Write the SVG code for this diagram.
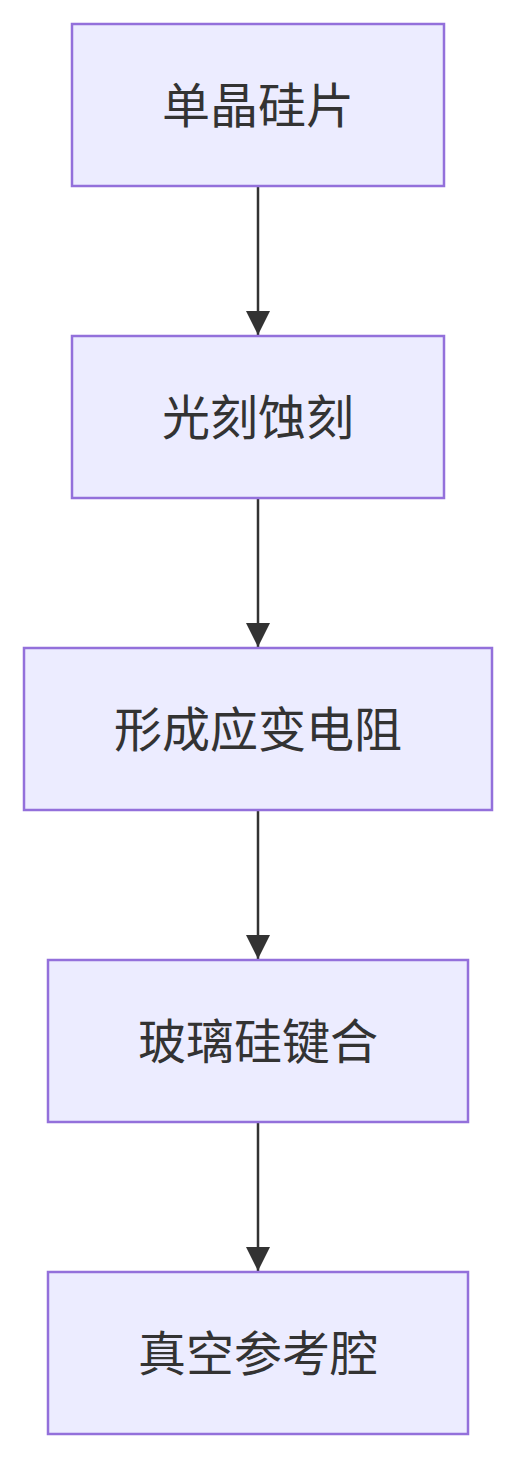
<svg xmlns="http://www.w3.org/2000/svg" width="516" height="1458" viewBox="0 0 516 1458">
<style>
.node rect{fill:#ECECFF;stroke:#9370DB;stroke-width:2.5px}
.node text{font-family:"Noto Sans CJK SC","Noto Sans",sans-serif;font-size:48px;fill:#333333;text-anchor:middle;dominant-baseline:central}
.edge{stroke:#333333;stroke-width:2.5px;fill:none}
</style>
<defs>
<marker id="arrow" markerUnits="userSpaceOnUse" viewBox="0 0 24 24" refX="24" refY="12" markerWidth="24" markerHeight="24" orient="auto">
<path d="M0,0 L24,12 L0,24 z" fill="#333333"/>
</marker>
</defs>
<rect width="516" height="1458" fill="#ffffff"/>
<g id="connectors">
<line class="edge" x1="258" y1="186" x2="258" y2="335" marker-end="url(#arrow)"/>
<line class="edge" x1="258" y1="498" x2="258" y2="647" marker-end="url(#arrow)"/>
<line class="edge" x1="258" y1="810" x2="258" y2="959" marker-end="url(#arrow)"/>
<line class="edge" x1="258" y1="1122" x2="258" y2="1271" marker-end="url(#arrow)"/>
</g>
<g id="n1" class="node"><rect x="72" y="24" width="372" height="162"/><text x="258" y="102">单晶硅片</text></g>
<g id="n2" class="node"><rect x="72" y="336" width="372" height="162"/><text x="258" y="414">光刻蚀刻</text></g>
<g id="n3" class="node"><rect x="24" y="648" width="468" height="162"/><text x="258" y="726">形成应变电阻</text></g>
<g id="n4" class="node"><rect x="48" y="960" width="420" height="162"/><text x="258" y="1038">玻璃硅键合</text></g>
<g id="n5" class="node"><rect x="48" y="1272" width="420" height="162"/><text x="258" y="1350">真空参考腔</text></g>
</svg>
